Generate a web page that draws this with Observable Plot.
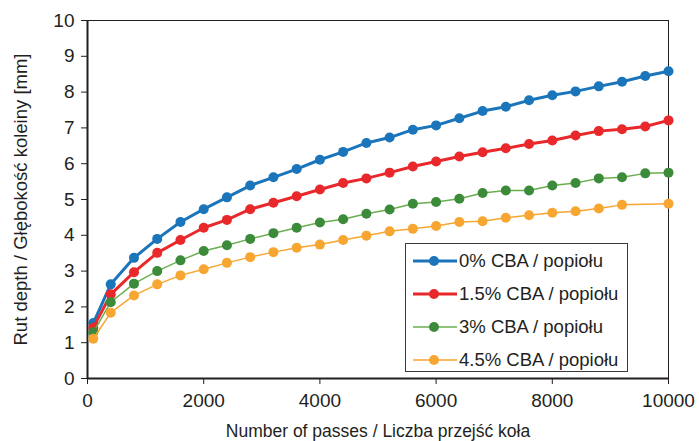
<!DOCTYPE html>
<html>
<head>
<meta charset="utf-8">
<script src="https://cdn.jsdelivr.net/npm/d3@7"></script>
<script src="https://cdn.jsdelivr.net/npm/@observablehq/plot@0.6"></script>
<style>
  html, body { margin: 0; padding: 0; background: white; }
  #wrap { position: relative; width: 699px; height: 441px; font-family: "Liberation Sans", Arial, sans-serif; color: #231f20; }
  #legend { position: absolute; left: 405px; top: 243px; width: 223px; height: 129px; border: 1px solid #3a3a3a; background: white; box-sizing: border-box; }
  .item { position: absolute; left: 7px; height: 20px; display: flex; align-items: center; font-size: 18.5px; white-space: nowrap; }
  .item svg { margin-right: 2px; }
</style>
</head>
<body>
<div id="wrap"></div>
<script>
const seriesNames = ["0% CBA / popiołu", "1.5% CBA / popiołu", "3% CBA / popiołu", "4.5% CBA / popiołu"];
const passes = [100, 400, 800, 1200, 1600, 2000, 2400, 2800, 3200, 3600, 4000, 4400, 4800, 5200, 5600, 6000, 6400, 6800, 7200, 7600, 8000, 8400, 8800, 9200, 9600, 10000];
const passesOrange = [100, 400, 800, 1200, 1600, 2000, 2400, 2800, 3200, 3600, 4000, 4400, 4800, 5200, 5600, 6000, 6400, 6800, 7200, 7600, 8000, 8400, 8800, 9200, 10000];
const cba0 = [1.55, 2.63, 3.37, 3.90, 4.37, 4.73, 5.06, 5.39, 5.62, 5.85, 6.11, 6.33, 6.58, 6.73, 6.95, 7.07, 7.27, 7.47, 7.59, 7.77, 7.91, 8.02, 8.16, 8.29, 8.45, 8.58];
const cba15 = [1.42, 2.35, 2.97, 3.51, 3.87, 4.21, 4.43, 4.73, 4.91, 5.09, 5.28, 5.46, 5.59, 5.75, 5.92, 6.06, 6.20, 6.32, 6.43, 6.55, 6.65, 6.79, 6.91, 6.96, 7.04, 7.21];
const cba3 = [1.29, 2.13, 2.65, 3.00, 3.30, 3.56, 3.72, 3.90, 4.06, 4.21, 4.36, 4.45, 4.60, 4.72, 4.88, 4.93, 5.02, 5.18, 5.25, 5.25, 5.39, 5.46, 5.59, 5.62, 5.73, 5.75];
const cba45 = [1.11, 1.84, 2.32, 2.63, 2.88, 3.05, 3.23, 3.39, 3.53, 3.65, 3.74, 3.87, 3.99, 4.11, 4.18, 4.26, 4.37, 4.39, 4.49, 4.56, 4.63, 4.67, 4.75, 4.85, 4.88];
const xTicks = [0, 2000, 4000, 6000, 8000, 10000];
const yTicks = [0, 1, 2, 3, 4, 5, 6, 7, 8, 9, 10];
const xTitle = "Number of passes / Liczba przejść koła";
const yTitle = "Rut depth / Głębokość koleiny [mm]";

const styles = [
  {line: "#1a75bb", dot: "#1a75bb", width: 3},
  {line: "#e8282b", dot: "#e8282b", width: 3},
  {line: "#6aae4f", dot: "#3c8b3a", width: 1.5},
  {line: "#f7a631", dot: "#f7a631", width: 1.5}
];
const xs = [passes, passes, passes, passesOrange];
const ys = [cba0, cba15, cba3, cba45];
const series = ys.map((vals, i) => vals.map((v, j) => ({x: xs[i][j], y: v})));

const marks = [
  Plot.frame({stroke: "#231f20", strokeWidth: 1}),
  Plot.axisX({ticks: xTicks, tickSize: 6, tickPadding: 9, tickFormat: d3.format("d"), fontSize: 19, label: null}),
  Plot.axisX({ticks: [], tickSize: 0, fontSize: 17.5, label: xTitle, labelAnchor: "center", labelArrow: "none", labelOffset: 58}),
  Plot.axisY({ticks: yTicks, tickSize: 6, tickPadding: 7, tickFormat: d3.format("d"), fontSize: 19, label: null}),
  Plot.axisY({ticks: [], tickSize: 0, fontSize: 18.5, label: yTitle, labelAnchor: "center", labelArrow: "none", labelOffset: 74}),
  Plot.ruleX([0], {stroke: "#231f20", strokeWidth: 2}),
  Plot.ruleY([0], {stroke: "#231f20", strokeWidth: 2})
];
series.forEach((d, i) => {
  marks.push(Plot.line(d, {x: "x", y: "y", stroke: styles[i].line, strokeWidth: styles[i].width}));
  marks.push(Plot.dot(d, {x: "x", y: "y", r: 5, fill: styles[i].dot, stroke: "none"}));
});

const chart = Plot.plot({
  width: 699, height: 441,
  marginLeft: 87, marginRight: 31, marginTop: 20, marginBottom: 63,
  style: {fontFamily: "'Liberation Sans', Arial, sans-serif", fontSize: "17px", color: "#231f20", background: "white", overflow: "visible"},
  x: {domain: [0, 10000]},
  y: {domain: [0, 10]},
  marks
});
const wrap = document.getElementById("wrap");
wrap.appendChild(chart);

const legend = document.createElement("div");
legend.id = "legend";
seriesNames.forEach((name, i) => {
  const item = document.createElement("div");
  item.className = "item";
  item.style.top = (7 + i * 33) + "px";
  item.innerHTML = `<svg width="44" height="14"><line x1="0" x2="44" y1="7" y2="7" stroke="${styles[i].line}" stroke-width="${styles[i].width}"/><circle cx="21" cy="7" r="5" fill="${styles[i].dot}"/></svg><span>${name}</span>`;
  legend.appendChild(item);
});
wrap.appendChild(legend);
</script>
</body>
</html>
